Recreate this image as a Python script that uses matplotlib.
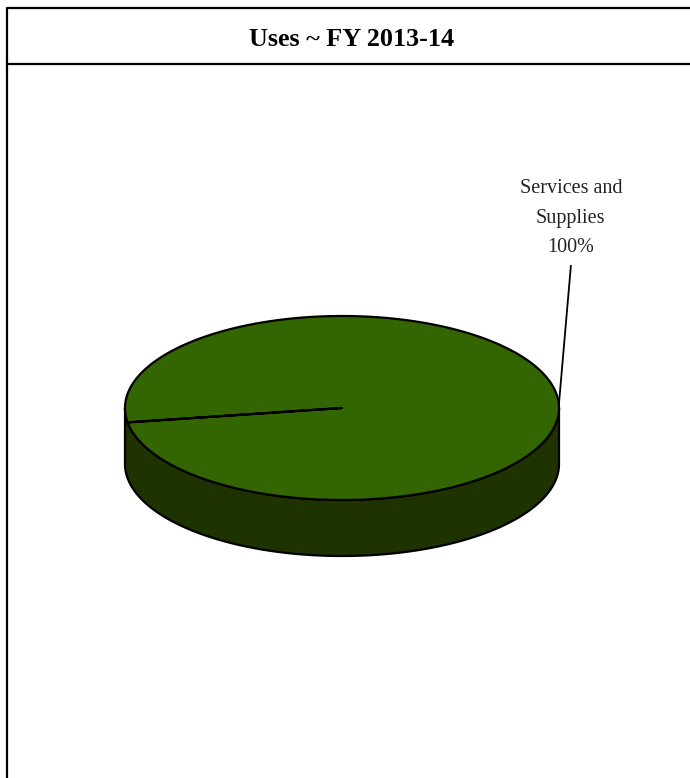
import numpy as np
import matplotlib
matplotlib.use("Agg")
import matplotlib.pyplot as plt
from matplotlib.patches import Polygon

# Datos del gráfico
categorias = ["Services and\nSupplies"]
valores = [100.0]
titulo = "Uses ~ FY 2013-14"

colores_tapa = ["#336600"]
colores_lado = ["#1e3300"]

# Geometría del pastel 3D (en píxeles de la figura)
cx, cy = 342, 408
rx, ry = 217, 92
profundidad = 56
inicio = 171.0  # grados, sentido horario en pantalla

fig = plt.figure(figsize=(6.9, 7.78), dpi=100)
ax = fig.add_axes([0, 0, 1, 1])
ax.set_xlim(0, 690)
ax.set_ylim(778, 0)
ax.axis("off")

# Marco y separador del título
ax.plot([6.5, 6.5, 690], [778, 8, 8], color="black", lw=1.6, solid_capstyle="butt")
ax.plot([6.5, 690], [63.5, 63.5], color="black", lw=1.6)
ax.text(352, 39, titulo, ha="center", va="center", fontsize=18.8,
        fontweight="bold", family="Liberation Serif")


def punto(t):
    r = np.radians(t)
    return cx + rx * np.cos(r), cy + ry * np.sin(r)


total = sum(valores)
angulo = inicio
for cat, val, ct, cl in zip(categorias, valores, colores_tapa, colores_lado):
    barrido = 360.0 * val / total
    # Cara lateral (mitad frontal visible)
    t = np.linspace(0, 180, 200)
    xs = cx + rx * np.cos(np.radians(t))
    ys = cy + ry * np.sin(np.radians(t))
    lado = np.concatenate([np.column_stack([xs, ys]),
                           np.column_stack([xs[::-1], ys[::-1] + profundidad])])
    ax.add_patch(Polygon(lado, closed=True, facecolor=cl, edgecolor="black", lw=1.6))

    # Tapa
    t = np.linspace(angulo, angulo + barrido, 400)
    xs = cx + rx * np.cos(np.radians(t))
    ys = cy + ry * np.sin(np.radians(t))
    tapa = np.vstack([[cx, cy], np.column_stack([xs, ys])])
    ax.add_patch(Polygon(tapa, closed=True, facecolor=ct, edgecolor="black",
                         lw=1.6, joinstyle="round"))

    # Etiqueta con línea guía
    medio = angulo + barrido / 2 + 7
    lx, ly = punto(medio)
    tx, ty = lx + 12, 266
    ax.plot([lx, tx], [ly, ty], color="black", lw=1.3)
    ax.text(tx, ty - 9, f"{cat}\n{val / total * 100:.0f}%", ha="center", va="bottom",
            fontsize=14.5, family="Liberation Serif", linespacing=1.75, color="#222222")
    angulo += barrido

fig.savefig("out.png", dpi=100)
